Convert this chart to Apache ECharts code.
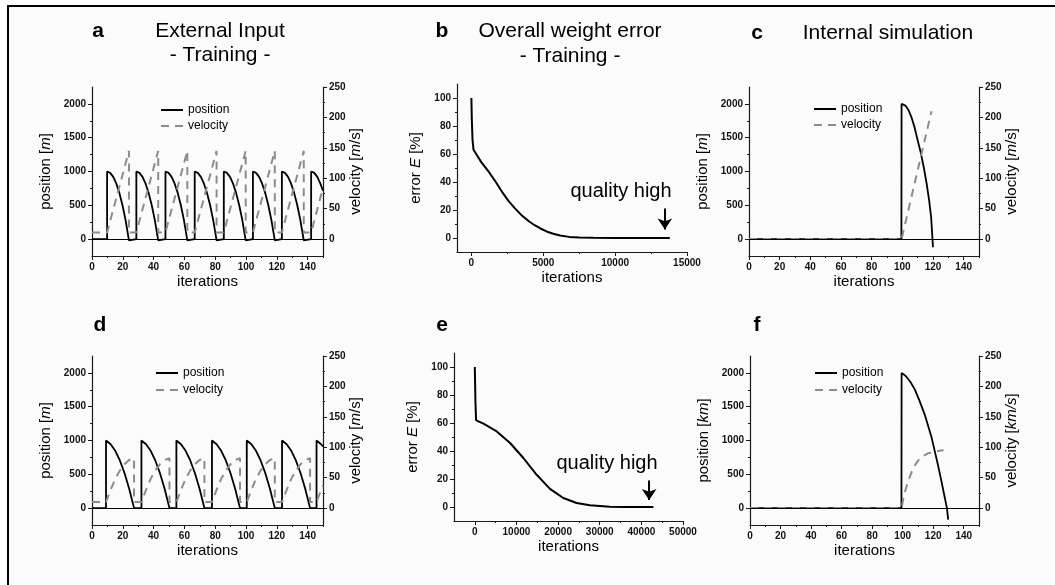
<!DOCTYPE html>
<html>
<head>
<meta charset="utf-8">
<script src="https://cdn.jsdelivr.net/npm/echarts@6/dist/echarts.min.js"></script>
<style>
html, body { margin: 0; padding: 0; background: #fff; }
#chart { width: 1055px; height: 585px; }
</style>
</head>
<body>
<div id="chart"></div>
<script>
// tick labels
var posTicks = [0, 500, 1000, 1500, 2000];
var posMinor = [250, 750, 1250, 1750];
var velTicks = [0, 50, 100, 150, 200, 250];
var velMinor = [25, 75, 125, 175, 225];
var iterTicks = [0, 20, 40, 60, 80, 100, 120, 140];
var iterMinor = [10, 30, 50, 70, 90, 110, 130, 150];
var errTicks = [0, 20, 40, 60, 80, 100];
var errMinor = [10, 30, 50, 70, 90];
var bIterTicks = [0, 5000, 10000, 15000];
var bIterMinor = [2500, 7500, 12500];
var eIterTicks = [0, 10000, 20000, 30000, 40000, 50000];
var eIterMinor = [5000, 15000, 25000, 35000, 45000];

// a: external input, training (iteration, value)
var aPosition = [[0,0],[9.8,0],[9.8,1000],[11.8,980],[13.8,920],[15.8,820],[17.8,680],[19.8,500],[21.8,280],[24.0,-20],[24.1,0],
  [28.8,0],[28.8,1000],[30.8,980],[32.8,920],[34.8,820],[36.8,680],[38.8,500],[40.8,280],[43.0,-20],[43.1,0],
  [47.7,0],[47.7,1000],[49.7,980],[51.7,920],[53.7,820],[55.7,680],[57.7,500],[59.7,280],[61.9,-20],[62.0,0],
  [66.7,0],[66.7,1000],[68.7,980],[70.7,920],[72.7,820],[74.7,680],[76.7,500],[78.7,280],[80.9,-20],[81.0,0],
  [85.6,0],[85.6,1000],[87.6,980],[89.6,920],[91.6,820],[93.6,680],[95.6,500],[97.6,280],[99.8,-20],[99.9,0],
  [104.5,0],[104.5,1000],[106.5,980],[108.5,920],[110.5,820],[112.5,680],[114.5,500],[116.5,280],[118.7,-20],[118.8,0],
  [123.3,0],[123.3,1000],[125.3,980],[127.3,920],[129.3,820],[131.3,680],[133.3,500],[135.3,280],[137.5,-20],[137.6,0],
  [142.3,0],[142.3,1000],[144.3,980],[146.3,920],[148.3,820],[150,715]];
var aVelocity = [[0,11],[9.8,11],[24.0,145],[24.0,11],[28.8,11],[43.0,145],[43.0,11],[47.7,11],[61.9,145],[61.9,11],
  [66.7,11],[80.9,145],[80.9,11],[85.6,11],[99.8,145],[99.8,11],[104.5,11],[118.7,145],[118.7,11],
  [123.3,11],[137.5,145],[137.5,11],[142.3,11],[150,84]];

// b: overall weight error, training
var bError = [[0,100],[30,85],[80,70],[150,63],[335,60],[700,54],[1230,47],[1700,40],[2130,33],[2580,26.5],
  [3000,21.5],[3470,16.5],[4000,12],[4370,9.3],[4800,6.8],[5270,4.5],[5700,3],[6170,1.8],[6800,0.8],
  [7500,0.3],[8500,0.1],[10000,0],[13800,0]];
var bArrow = [[13460,21],[13460,6]];

// c: internal simulation
var cPosition = [[0,0],[99.4,0],[99.5,2000],[100.5,2000],[102,1975],[104,1910],[106,1800],[108,1650],[110,1460],
  [112,1280],[114,1060],[116,800],[117.5,570],[118.8,320],[120,-120]];
var cVelocity = [[0,0],[99.5,0],[119,210]];

// d: external input, training
var dPosition = [[0,0],[9.1,0],[9.1,1000],[12.1,945],[15.1,847],[18.1,705],[21.1,520],[24.1,291],[27.3,0],
  [32.1,0],[32.1,1000],[35.1,945],[38.1,847],[41.1,705],[44.1,520],[47.1,291],[50.3,0],
  [54.8,0],[54.8,1000],[57.8,945],[60.8,847],[63.8,705],[66.8,520],[69.8,291],[73.0,0],
  [77.9,0],[77.9,1000],[80.9,945],[83.9,847],[86.9,705],[89.9,520],[92.9,291],[96.1,0],
  [100.5,0],[100.5,1000],[103.5,945],[106.5,847],[109.5,705],[112.5,520],[115.5,291],[118.7,0],
  [123.4,0],[123.4,1000],[126.4,945],[129.4,847],[132.4,705],[135.4,520],[138.4,291],[141.6,0],
  [145.8,0],[145.8,1000],[148.8,945],[150,911]];
var dVelocity = [[0,10],[9.1,10],[12.1,30],[15.1,48],[18.1,62],[21.1,72],[24.1,79],[27.3,82],[27.3,10],
  [32.1,10],[35.1,30],[38.1,48],[41.1,62],[44.1,72],[47.1,79],[50.3,82],[50.3,10],
  [54.8,10],[57.8,30],[60.8,48],[63.8,62],[66.8,72],[69.8,79],[73.0,82],[73.0,10],
  [77.9,10],[80.9,30],[83.9,48],[86.9,62],[89.9,72],[92.9,79],[96.1,82],[96.1,10],
  [100.5,10],[103.5,30],[106.5,48],[109.5,62],[112.5,72],[115.5,79],[118.7,82],[118.7,10],
  [123.4,10],[126.4,30],[129.4,48],[132.4,62],[135.4,72],[138.4,79],[141.6,82],[141.6,10],
  [145.8,10],[148.8,30],[150,37]];

// e: overall weight error, training
var eError = [[0,100],[150,75],[300,62],[1000,61],[2080,59.5],[5270,54],[8470,45.7],[11660,35],[14860,23],
  [18050,12.9],[21250,6.4],[24440,2.9],[27640,1.2],[32430,0.2],[36000,0],[42900,0]];
var eArrow = [[41870,19],[41870,5]];

// f: internal simulation
var fPosition = [[0,0],[99.2,0],[99.3,2000],[100.5,2000],[102,1955],[105,1870],[108,1752],[111,1590],[114.5,1380],
  [118.8,1057],[123,650],[125,440],[127,220],[129,0],[129.8,-170]];
var fVelocity = [[0,0],[99.3,0],[101,23],[103.7,45],[106,60],[108,70],[110,78],[112.3,84],[116.6,90],[121,93],
  [125,94.5],[126.8,95]];

var FONT = 'Liberation Sans';
var AX = '#1a1a1a';
var grids = [], xAxes = [], yAxes = [], series = [], legends = [];

function nameStyle() {
	return {
		fontSize: 15, color: '#000', fontFamily: FONT,
		rich: {
			n: {fontSize: 15, color: '#000', fontFamily: FONT},
			i: {fontSize: 15, color: '#000', fontFamily: FONT, fontStyle: 'italic'}
		}
	};
}

// main axis + a second one carrying the short ticks
function axisPair(g, pos, min, max, labels, minors, name, gap) {
	return [{
		gridIndex: g, type: 'value', position: pos, offset: 0, min: min, max: max,
		axisLine: {show: true, onZero: false, lineStyle: {color: AX, width: 1.2}},
		axisTick: {show: true, customValues: labels, length: 4, lineStyle: {color: AX}},
		axisLabel: {show: true, customValues: labels, margin: 6, fontSize: 10, fontWeight: 'bold',
			color: '#111', fontFamily: FONT, formatter: function(v) { return String(v); }},
		splitLine: {show: false},
		name: name, nameLocation: 'middle', nameGap: gap, nameMoveOverlap: false,
		nameTextStyle: nameStyle()
	}, {
		gridIndex: g, type: 'value', position: pos, offset: 0, min: min, max: max,
		axisLine: {show: false, onZero: false},
		axisTick: {show: true, customValues: minors, length: 2, lineStyle: {color: AX}},
		axisLabel: {show: false},
		splitLine: {show: false}
	}];
}

function addMotion(box, posData, velData, posName, velName, legendBox) {
	var g = grids.length;
	grids.push({left: box[0], top: box[1], width: box[2], height: box[3], outerBoundsMode: 'none'});
	var xi = xAxes.length, yi = yAxes.length;
	xAxes = xAxes.concat(axisPair(g, 'bottom', 0, 150, iterTicks, iterMinor, 'iterations', 18));
	yAxes = yAxes.concat(axisPair(g, 'left', -250, 2250, posTicks, posMinor, posName, 39));
	yAxes = yAxes.concat(axisPair(g, 'right', -250 / 9, 250, velTicks, velMinor, velName, 25));
	series.push({
		name: 'position', type: 'line', xAxisIndex: xi, yAxisIndex: yi, data: posData,
		symbol: 'none', showSymbol: false, animation: false,
		lineStyle: {color: '#000', width: 1.8}, itemStyle: {color: '#000'},
		markLine: {silent: true, symbol: 'none', label: {show: false}, animation: false,
			lineStyle: {color: '#000', width: 1.2, type: 'solid'}, data: [{yAxis: 0}]}
	});
	series.push({
		name: 'velocity', type: 'line', xAxisIndex: xi, yAxisIndex: yi + 2, data: velData,
		symbol: 'none', showSymbol: false, animation: false,
		lineStyle: {color: '#8c8c8c', width: 2, type: [8, 6]}, itemStyle: {color: '#8c8c8c'}
	});
	legends.push({
		left: legendBox[0], top: legendBox[1], orient: 'vertical', itemWidth: 22, itemHeight: 10,
		itemGap: legendBox[2], selectedMode: false, data: ['position', 'velocity'],
		itemStyle: {opacity: 0},
		textStyle: {fontSize: 12, color: '#000', fontFamily: FONT}
	});
}

function addError(box, data, xmin, xmax, ticks, minors, arrow) {
	var g = grids.length;
	grids.push({left: box[0], top: box[1], width: box[2], height: box[3], outerBoundsMode: 'none'});
	var xi = xAxes.length, yi = yAxes.length;
	xAxes = xAxes.concat(axisPair(g, 'bottom', xmin, xmax, ticks, minors, 'iterations', 18));
	yAxes = yAxes.concat(axisPair(g, 'left', -10, 110, errTicks, errMinor, '{n|error }{i|E}{n| [%]}', 34));
	series.push({
		name: 'error', type: 'line', xAxisIndex: xi, yAxisIndex: yi, data: data,
		symbol: 'none', showSymbol: false, animation: false,
		lineStyle: {color: '#000', width: 2},
		markLine: {silent: true, symbol: ['none', 'arrow'], symbolSize: 11, label: {show: false},
			animation: false, lineStyle: {color: '#000', width: 2, type: 'solid'},
			itemStyle: {color: '#000'},
			data: [[{coord: arrow[0]}, {coord: arrow[1]}]]}
	});
}

addMotion([92, 87, 231, 169], aPosition, aVelocity, '{n|position [}{i|m}{n|]}', '{n|velocity [}{i|m}{n|/s]}', [155, 99, 4]);
addError([457, 84, 230, 168], bError, -1000, 15000, bIterTicks, bIterMinor, bArrow);
addMotion([749, 87, 230, 169], cPosition, cVelocity, '{n|position [}{i|m}{n|]}', '{n|velocity [}{i|m}{n|/s]}', [808, 98, 4]);
addMotion([92, 356, 231, 169], dPosition, dVelocity, '{n|position [}{i|m}{n|]}', '{n|velocity [}{i|m}{n|/s]}', [150, 362, 5]);
addError([454, 353, 229, 168], eError, -5000, 50000, eIterTicks, eIterMinor, eArrow);
addMotion([750, 356, 229, 169], fPosition, fVelocity, '{n|position [}{i|km}{n|]}', '{n|velocity [}{i|km/s}{n|]}', [809, 362, 5]);

function txt(s, x, y, size, bold) {
	return {type: 'text', x: x, y: y, z: 10, style: {text: s, align: 'center', verticalAlign: 'middle',
		fontSize: size, fontWeight: bold ? 'bold' : 'normal', fontFamily: FONT, fill: '#000'}};
}

var graphics = [
	{type: 'rect', z: -10, shape: {x: 9, y: 7, width: 1046, height: 578}, style: {fill: '#fbfbfb'}},
	{type: 'rect', z: 5, shape: {x: 7, y: 5, width: 1048, height: 2}, style: {fill: '#000'}},
	{type: 'rect', z: 5, shape: {x: 7, y: 5, width: 2, height: 580}, style: {fill: '#000'}},
	txt('a', 98, 31, 21, true), txt('External Input', 220, 31, 21), txt('- Training -', 220, 55, 21),
	txt('b', 442, 31, 21, true), txt('Overall weight error', 570, 31, 21), txt('- Training -', 570, 56, 21),
	txt('c', 757, 33, 21, true), txt('Internal simulation', 888, 33, 21),
	txt('d', 100, 325, 21, true), txt('e', 442, 325, 21, true), txt('f', 757, 325, 21, true),
	txt('quality high', 621, 191, 20), txt('quality high', 607, 463, 20)
];

var chart = echarts.init(document.getElementById('chart'), null, {renderer: 'canvas'});
chart.setOption({
	backgroundColor: '#ffffff',
	animation: false,
	grid: grids,
	xAxis: xAxes,
	yAxis: yAxes,
	legend: legends,
	series: series,
	graphic: graphics
});
</script>
</body>
</html>
